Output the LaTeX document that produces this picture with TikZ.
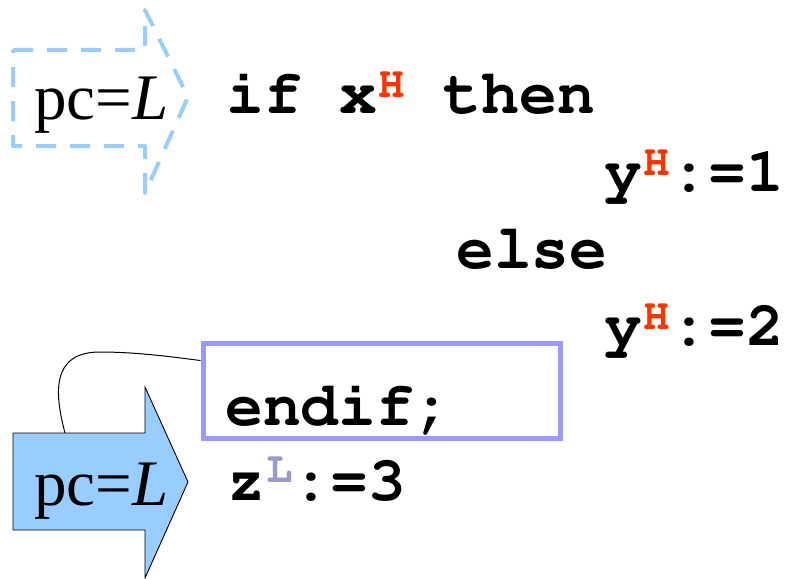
\documentclass[tikz,border=0pt]{standalone}
\usepackage{fontspec}
\setmainfont{Liberation Serif}
\usetikzlibrary{calc}
\definecolor{hicol}{HTML}{FF3300}
\definecolor{locol}{HTML}{9999CC}
\definecolor{arrowblue}{HTML}{99CCFF}
\definecolor{boxcol}{HTML}{9999FF}
\newcommand{\codefnt}{\fontencoding{OT1}\fontfamily{pcr}\fontseries{b}\fontshape{n}}
\newcommand{\codebig}{\codefnt\fontsize{63}{63}\selectfont}
\newcommand{\supH}{\hspace{1pt}\raisebox{16pt}{\fontsize{44}{44}\selectfont\textcolor{hicol}{H}}\hspace{1pt}}
\newcommand{\supL}{\hspace{1pt}\raisebox{18pt}{\fontsize{44}{44}\selectfont\textcolor{locol}{L}}\hspace{0pt}}
\tikzset{
  code/.style={inner sep=0pt, anchor=base west, font=\codebig},
  pclabel/.style={inner sep=0pt, anchor=base west, font=\fontsize{65}{65}\selectfont},
  dasharrow/.style={draw=arrowblue, line width=4pt, dash pattern=on 20pt off 14pt, line join=round},
  solidarrow/.style={draw=black, fill=arrowblue, line width=0.9pt},
  hbox/.style={draw=boxcol, line width=5pt, minimum width=357pt, minimum height=95pt, inner sep=0pt},
  link/.style={draw=black, line width=1pt}
}
\begin{document}
\begin{tikzpicture}[x=1pt,y=-1pt]
\useasboundingbox (0,0) rectangle (789,578);
% dashed arrow (top)
\draw[dasharrow] (13,50) -- (145,50) -- (145,10) -- (188,97) -- (145,193) -- (145,146) -- (13,146) -- cycle;
\node[pclabel] (pc1) at (34,119) {pc=\textit{L}};
% solid arrow (bottom)
\draw[solidarrow] (13,433) -- (145,433) -- (145,387) -- (188,482) -- (145,578) -- (145,530) -- (13,530) -- cycle;
\coordinate (arrtop) at (65,433);
\node[pclabel] (pc2) at (34,505) {pc=\textit{L}};
% code
\node[code] (l1) at (226,113) {if x\supH{} then};
\node[code] (l2) at (604,191) {y\supH{}:=1};
\node[code] (l3) at (456,268) {else};
\node[code] (l4) at (604,345) {y\supH{}:=2};
\node[hbox] (box) at (381.5,390.5) {};
\node[code] (l5) at (225,425) {endif;};
\node[code] (l6) at (227,500) {z\supL{}:=3};
% link
\coordinate (boxend) at ($(box.north west)!0.2!(box.south west)$);
\draw[link] (arrtop) .. controls (55,395) and (50,352) .. (100,352) .. controls (140,352) and (180,358) .. (boxend);
\end{tikzpicture}
\end{document}
